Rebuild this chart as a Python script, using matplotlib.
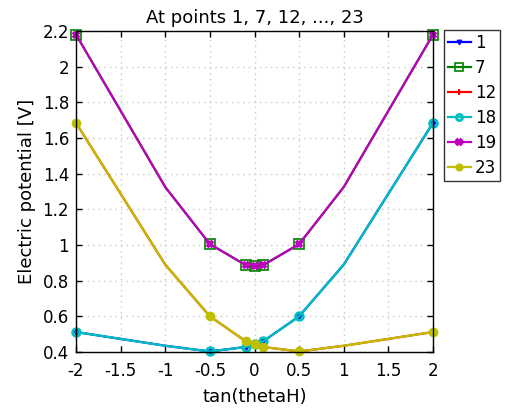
import matplotlib
matplotlib.use("Agg")
import matplotlib.pyplot as plt
import numpy as np

x = [-2, -1, -0.5, -0.1, 0, 0.1, 0.5, 1, 2]
labels = ["1", "7", "12", "18", "19", "23"]
s1 = [0.512, 0.435, 0.403, 0.428, 0.444, 0.461, 0.60, 0.89, 1.685]
s7 = [2.18, 1.325, 1.005, 0.888, 0.885, 0.888, 1.005, 1.325, 2.18]
s12 = [1.685, 0.89, 0.60, 0.461, 0.444, 0.428, 0.403, 0.435, 0.512]
s18 = s1
s19 = s7
s23 = s12
series = [s1, s7, s12, s18, s19, s23]

colors = [(0, 0, 1), (0, 0.5, 0), (1, 0, 0), (0, 0.75, 0.75), (0.75, 0, 0.75), (0.75, 0.75, 0)]
markers = ["v", "s", "+", "o", "x", "o"]
mfc = [(0, 0, 1), "none", (1, 0, 0), "none", (0.75, 0, 0.75), (0.75, 0.75, 0)]
msz = [4, 6.5, 6, 5.5, 5, 6]
mew = [1, 1.2, 1.5, 2, 2.8, 1]
mark_idx = [0, 2, 3, 4, 5, 6, 8]

plt.rcParams['font.family'] = ['DejaVu Sans']
fig = plt.figure(figsize=(5.06, 4.08), dpi=100)
ax = fig.add_axes([76/506, 1-352/408, (433-76)/506, (352-31)/408])

for y, c, m, fc, ms, mw, lab in zip(series, colors, markers, mfc, msz, mew, labels):
    ax.plot(x, y, color=c, lw=1.6, marker=m, markevery=mark_idx, markerfacecolor=fc,
            markeredgecolor=c, markersize=ms, markeredgewidth=mw, label=lab, clip_on=False)

ax.set_xlim(-2, 2)
ax.set_ylim(0.4, 2.2)
ax.set_xticks(np.arange(-2, 2.01, 0.5))
ax.set_xticklabels(["-2", "-1.5", "-1", "-0.5", "0", "0.5", "1", "1.5", "2"])
ax.set_yticks(np.arange(0.4, 2.21, 0.2))
ax.set_yticklabels(["0.4", "0.6", "0.8", "1", "1.2", "1.4", "1.6", "1.8", "2", "2.2"])
ax.tick_params(direction="in", top=True, right=True, labelsize=12, length=4, width=1)
ax.tick_params(axis="x", pad=7)
ax.tick_params(axis="y", pad=5)
ax.grid(True, color=(0.78, 0.78, 0.78), linestyle=(0, (1, 3)), linewidth=1)
for sp in ax.spines.values():
    sp.set_linewidth(1)
ax.set_title("At points 1, 7, 12, ..., 23", fontsize=13, pad=6)
ax.set_xlabel("tan(thetaH)", fontsize=13, labelpad=6)
ax.set_ylabel("Electric potential [V]", fontsize=13, labelpad=5)

leg = ax.legend(loc="upper left", bbox_to_anchor=(444/506, 1-30/408), bbox_transform=fig.transFigure,
                fontsize=12, frameon=True, fancybox=False, edgecolor="black", handlelength=1.35,
                handletextpad=0.25, borderpad=0.25, borderaxespad=0, labelspacing=0.42,
                markerscale=0.8)
leg.get_frame().set_linewidth(1)

fig.savefig("out.png", dpi=100)
